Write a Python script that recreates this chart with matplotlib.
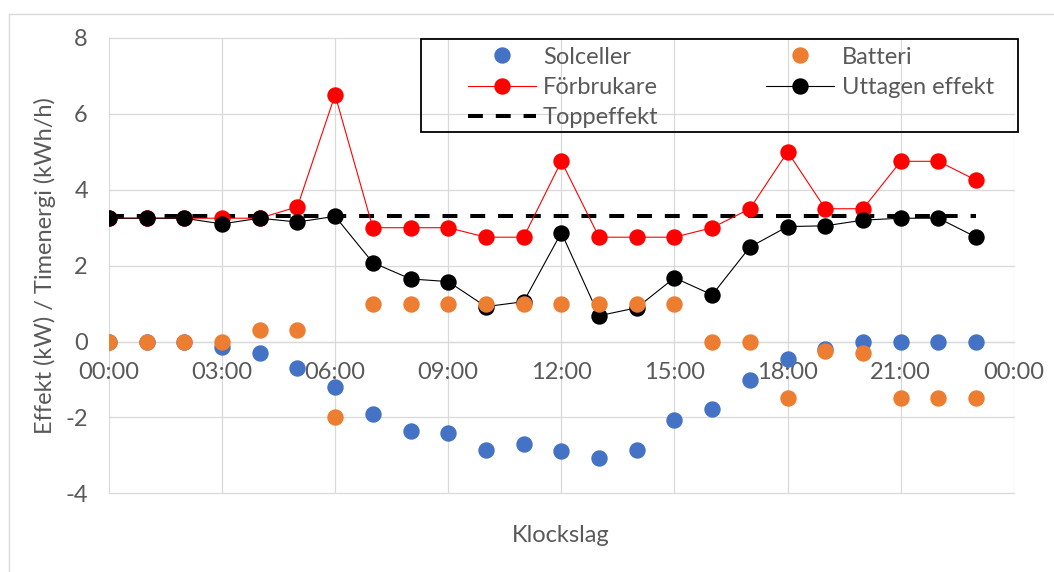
import matplotlib
matplotlib.use('Agg')
import matplotlib.pyplot as plt
from matplotlib.lines import Line2D
from matplotlib.patches import Rectangle

plt.rcParams['font.family'] = ['Lato', 'DejaVu Sans']
plt.rcParams['axes.unicode_minus'] = False

# hourly values (kW / kWh per hour)
hours = list(range(24))
solceller = [0, 0, 0, -0.15, -0.3, -0.7, -1.2, -1.92, -2.35, -2.42, -2.85, -2.7,
             -2.88, -3.07, -2.86, -2.07, -1.77, -1.01, -0.47, -0.2, 0, 0, 0, 0]
batteri = [0, 0, 0, 0, 0.3, 0.3, -2, 1, 1, 1, 1, 1,
           1, 1, 1, 1, 0, 0, -1.5, -0.25, -0.3, -1.5, -1.5, -1.5]
forbrukare = [3.25, 3.25, 3.25, 3.25, 3.25, 3.55, 6.5, 3, 3, 3, 2.75, 2.75,
              4.75, 2.75, 2.75, 2.75, 3, 3.5, 5, 3.5, 3.5, 4.75, 4.75, 4.25]
uttagen = [3.25, 3.25, 3.25, 3.1, 3.25, 3.15, 3.3, 2.08, 1.65, 1.58, 0.92, 1.05,
           2.87, 0.68, 0.89, 1.68, 1.23, 2.49, 3.03, 3.05, 3.2, 3.25, 3.25, 2.75]
toppeffekt = [3.3] * 24

xticks = [0, 3, 6, 9, 12, 15, 18, 21, 24]
xticklabels = ['00:00', '03:00', '06:00', '09:00', '12:00', '15:00', '18:00', '21:00', '00:00']
yticks = [-4, -2, 0, 2, 4, 6, 8]

W, H = 1054, 572
fig = plt.figure(figsize=(W / 100, H / 100), dpi=100)

def fx(px):
    return px / W

def fy(py):
    return 1 - py / H

ax = fig.add_axes([fx(108.8), fy(493.3), fx(1013.9) - fx(108.8), fy(38) - fy(493.3)])

grey = '#D9D9D9'
txt = '#595959'
fs = 17
ms = 10.8

ax.plot(hours, toppeffekt, color='black', lw=2.9, dashes=(3.7, 3.2),
        dash_capstyle='butt', zorder=2, label='Toppeffekt')
ax.plot(hours, forbrukare, color='#FF0000', lw=0.8, marker='o', ms=ms,
        mec='#FF0000', mfc='#FF0000', zorder=3, label='Förbrukare')
ax.plot(hours, uttagen, color='black', lw=0.8, marker='o', ms=ms,
        mec='black', mfc='black', zorder=4, label='Uttagen effekt')
ax.plot(hours, solceller, ls='none', marker='o', ms=ms, mec='#4472C4',
        mfc='#4472C4', zorder=5, label='Solceller')
ax.plot(hours, batteri, ls='none', marker='o', ms=ms, mec='#ED7D31',
        mfc='#ED7D31', zorder=6, label='Batteri')

ax.set_xlim(0, 24)
ax.set_ylim(-4, 8)
ax.set_xticks(xticks)
ax.set_xticklabels(xticklabels)
ax.set_yticks(yticks)
ax.grid(True, color=grey, lw=0.9)
ax.set_axisbelow(True)
for gl in ax.get_xgridlines() + ax.get_ygridlines():
    gl.set_clip_on(False)

for side in ['top', 'right', 'left']:
    ax.spines[side].set_visible(False)
ax.spines['bottom'].set_position(('data', 0))
ax.spines['bottom'].set_color(grey)
ax.spines['bottom'].set_linewidth(0.9)
ax.tick_params(axis='both', length=0, labelsize=fs, labelcolor=txt, pad=15)

fig.text(fx(45), fy(265.7), 'Effekt (kW) / Timenergi (kWh/h)', rotation=90,
         ha='center', va='center', fontsize=fs, color=txt)
fig.text(fx(561), fy(535), 'Klockslag', ha='center', va='center',
         fontsize=fs, color=txt)

# legend: two columns, each its own legend, with one shared frame
h = {l.get_label(): l for l in ax.get_lines()}
common = dict(frameon=False, fontsize=fs, labelcolor=txt, handlelength=2.88,
              handletextpad=0.32, labelspacing=0.4, borderpad=0,
              borderaxespad=0, loc='upper left', bbox_transform=fig.transFigure)
leg1 = ax.legend([h['Solceller'], h['Förbrukare'], h['Toppeffekt']],
                 ['Solceller', 'Förbrukare', 'Toppeffekt'],
                 bbox_to_anchor=(fx(467.5), fy(46.5)), **common)
ax.add_artist(leg1)
ax.legend([h['Batteri'], h['Uttagen effekt']], ['Batteri', 'Uttagen effekt'],
          bbox_to_anchor=(fx(766), fy(46.5)), **common)

fig.patches.append(Rectangle((fx(421), fy(132)), fx(1018) - fx(421), fy(39) - fy(132),
                             transform=fig.transFigure, fill=False,
                             edgecolor='black', lw=1.3, zorder=10))

# chart area border (top and left edges)
fig.lines.append(Line2D([fx(8.5), 1], [fy(14), fy(14)], transform=fig.transFigure,
                        color=grey, lw=1))
fig.lines.append(Line2D([fx(8.5), fx(8.5)], [fy(14), 0], transform=fig.transFigure,
                        color=grey, lw=1))

fig.savefig('out.png', dpi=100)
